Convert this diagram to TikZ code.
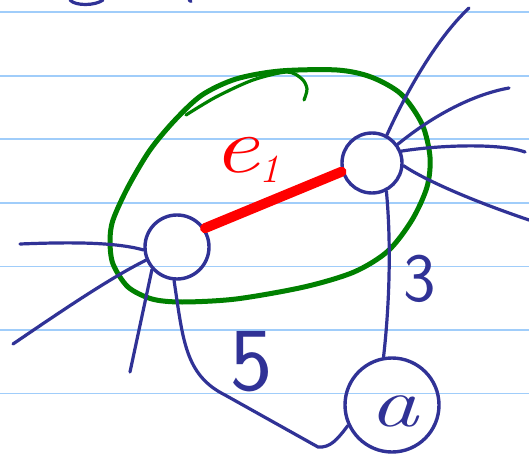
\documentclass[tikz,border=0pt]{standalone}
\usepackage{fontspec}
\usetikzlibrary{calc}
\definecolor{inkblue}{RGB}{48,50,150}
\definecolor{inkgreen}{RGB}{0,128,0}
\definecolor{inkred}{RGB}{255,0,0}
\definecolor{rulecol}{RGB}{160,205,250}

\begin{document}
\begin{tikzpicture}[x=1pt,y=-1pt,
    wire/.style={draw=inkblue,line width=3.2pt,line cap=round},
    vtx/.style={circle,draw=inkblue,line width=3.4pt,inner sep=0pt},
    lbl/.style={text=inkblue,inner sep=0pt}]
  \fill[white] (0,0) rectangle (529,454);
  \useasboundingbox (0,0) rectangle (529,454);
  % ruled paper
  \foreach \k in {0,...,6}
    \draw[rulecol,line width=1.8pt] (0,{12.4+63.5*\k}) -- (529,{12.4+63.5*\k});
  % cut-off strokes at the top
  \draw[wire] (70,0) .. controls (75,6) and (95,6) .. (103,0);
  \draw[wire] (189,0) -- (191,1.5);
  % contracted region
  \draw[inkgreen,line width=5pt,line cap=round] plot[smooth cycle] coordinates {
    (150,150) (128,187) (113,220) (110,241) (113,264) (128,287) (152,299)
    (182,302) (236,299) (304,287) (354,272) (388,251) (412,220) (427,187)
    (430,157) (422,124) (401,94) (371,77) (337,70) (280,71) (236,79)
    (202,95) (175,120)};
  \draw[inkgreen,line width=3.2pt,line cap=round] plot[smooth] coordinates {
    (186,115) (216,97) (253,80) (287,72) (302,79) (307,89) (304,100)};
  % vertices
  \node[vtx,minimum size=64pt] (u) at (177,247) {};
  \node[vtx,minimum size=60pt] (v) at (372,163) {};
  \node[vtx,minimum size=94pt] (a) at (392,405) {};
  \node[lbl,font=\fontsize{70}{70}\selectfont\itshape] (alab) at ($(a.center)+(2,6)$) {\scalebox{1.4}[1]{a}};
  % free ends
  \coordinate (l1) at (20,244);
  \coordinate (l2) at (13,344);
  \coordinate (l3) at (130,372);
  \coordinate (r1) at (469,8);
  \coordinate (r2) at (509,88);
  \coordinate (r3) at (525,152);
  \coordinate (r4) at (529,220);
  % edges
  \draw[inkred,line width=10pt,line cap=round] (u.34) -- (v.196);
  \draw[wire] (l1) .. controls (70,242) and (115,242) .. (u.185);
  \draw[wire] (l2) .. controls (60,312) and (110,278) .. (u.203);
  \draw[wire] (l3) -- (u.222);
  \draw[wire] (u.265) .. controls (183,340) and (185,375) .. (225,395)
    -- (318,447) .. controls (330,448) and (337,440) .. (a.205);
  \draw[wire] (v.62) .. controls (405,95) and (435,40) .. (r1);
  \draw[wire] (v.36) .. controls (430,118) and (470,95) .. (r2);
  \draw[wire] (v.22) .. controls (440,145) and (500,143) .. (r3);
  \draw[wire] (v.-5) .. controls (425,180) and (470,200) .. (r4);
  \draw[wire] (v.-63) .. controls (391,240) and (390,300) .. (a.100);
  % labels
  \node[text=inkred,inner sep=0pt] (elab) at (246,160)
    {\fontsize{80}{80}\selectfont\itshape\scalebox{1.3}[1]{e}\raisebox{-10pt}{\fontsize{40}{40}\selectfont 1}};
  \node[lbl,font=\fontsize{69}{69}\selectfont\sffamily] (three) at (420,279) {3};
  \node[lbl,font=\fontsize{90}{90}\selectfont\sffamily] (five) at (252,362) {5};
\end{tikzpicture}
\end{document}
